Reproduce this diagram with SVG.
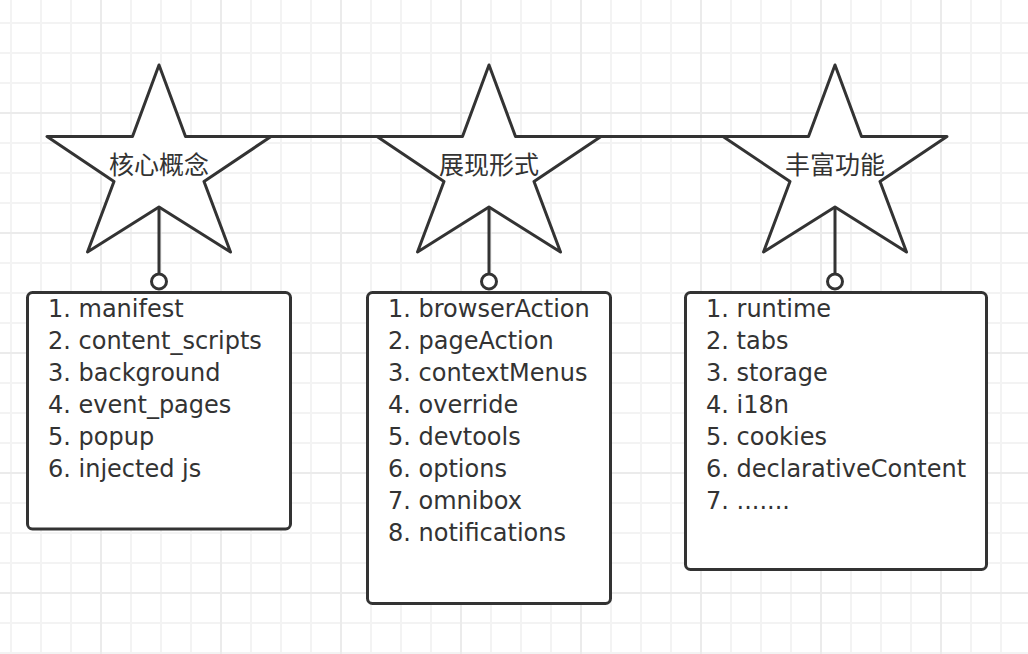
<svg xmlns="http://www.w3.org/2000/svg" width="1028" height="654" viewBox="0 0 1028 654">
  <style>
    .star { fill: #ffffff; stroke: #333333; stroke-width: 3; stroke-linejoin: round; }
    .box { fill: #ffffff; stroke: #333333; stroke-width: 3; }
    .title { font-family: "Noto Sans CJK SC", "DejaVu Sans", sans-serif; font-size: 25px; fill: #333333; text-anchor: middle; }
    .item { font-family: "DejaVu Sans", "Noto Sans", sans-serif; font-size: 24px; fill: #333333; }
    .edge { fill: none; stroke: #333333; stroke-width: 3; }
    .minor { stroke: #f3f3f3; stroke-width: 2; }
    .major { stroke: #ebebeb; stroke-width: 2; }
  </style>
  <defs>
    <pattern id="gridPattern" patternUnits="userSpaceOnUse" x="-34" y="-22" width="120" height="120">
      <line class="minor" x1="45" y1="0" x2="45" y2="120"/>
      <line class="minor" x1="75" y1="0" x2="75" y2="120"/>
      <line class="minor" x1="105" y1="0" x2="105" y2="120"/>
      <line class="minor" x1="0" y1="45" x2="120" y2="45"/>
      <line class="minor" x1="0" y1="75" x2="120" y2="75"/>
      <line class="minor" x1="0" y1="105" x2="120" y2="105"/>
      <line class="major" x1="15" y1="0" x2="15" y2="120"/>
      <line class="major" x1="0" y1="15" x2="120" y2="15"/>
    </pattern>
    <marker id="oval" markerUnits="userSpaceOnUse" viewBox="0 0 20 20" refX="2.5" refY="10" markerWidth="20" markerHeight="20" orient="auto">
      <circle cx="10" cy="10" r="7.5" fill="#ffffff" stroke="#333333" stroke-width="3"/>
    </marker>
  </defs>

  <rect id="background" x="0" y="0" width="1028" height="654" fill="#ffffff"/>
  <rect id="grid" x="0" y="0" width="1028" height="654" fill="url(#gridPattern)"/>

  <g id="node-core">
    <polygon class="star" points="159,65 185.5,136.5 271,136.5 204,181.5 230.5,252 159,207 87.5,252 114,181.5 47,136.5 132.5,136.5"/>
    <text class="title" x="159" y="174">核心概念</text>
  </g>
  <g id="node-display">
    <polygon class="star" points="489,65 515.5,136.5 601,136.5 534,181.5 560.5,252 489,207 417.5,252 444,181.5 377,136.5 462.5,136.5"/>
    <text class="title" x="489" y="174">展现形式</text>
  </g>
  <g id="node-features">
    <polygon class="star" points="835,65 861.5,136.5 947,136.5 880,181.5 906.5,252 835,207 763.5,252 790,181.5 723,136.5 808.5,136.5"/>
    <text class="title" x="835" y="174">丰富功能</text>
  </g>

  <g id="node-core-list">
    <rect class="box" x="27.5" y="292.5" width="263" height="236.5" rx="5" ry="5"/>
    <text class="item" x="48" y="317">1. manifest</text>
    <text class="item" x="48" y="349">2. content_scripts</text>
    <text class="item" x="48" y="381">3. background</text>
    <text class="item" x="48" y="413">4. event_pages</text>
    <text class="item" x="48" y="445">5. popup</text>
    <text class="item" x="48" y="477">6. injected js</text>
  </g>
  <g id="node-display-list">
    <rect class="box" x="367.5" y="292.5" width="243" height="311" rx="5" ry="5"/>
    <text class="item" x="388" y="317">1. browserAction</text>
    <text class="item" x="388" y="349">2. pageAction</text>
    <text class="item" x="388" y="381">3. contextMenus</text>
    <text class="item" x="388" y="413">4. override</text>
    <text class="item" x="388" y="445">5. devtools</text>
    <text class="item" x="388" y="477">6. options</text>
    <text class="item" x="388" y="509">7. omnibox</text>
    <text class="item" x="388" y="541">8. notifications</text>
  </g>
  <g id="node-features-list">
    <rect class="box" x="685.5" y="292.5" width="301" height="277" rx="5" ry="5"/>
    <text class="item" x="706" y="317">1. runtime</text>
    <text class="item" x="706" y="349">2. tabs</text>
    <text class="item" x="706" y="381">3. storage</text>
    <text class="item" x="706" y="413">4. i18n</text>
    <text class="item" x="706" y="445">5. cookies</text>
    <text class="item" x="706" y="477">6. declarativeContent</text>
    <text class="item" x="706" y="509">7. .......</text>
  </g>

  <g id="connectors">
    <path class="edge" d="M271,136.5 H377"/>
    <path class="edge" d="M601,136.5 H723"/>
    <path class="edge" d="M159,207 V274" marker-end="url(#oval)"/>
    <path class="edge" d="M489,207 V274" marker-end="url(#oval)"/>
    <path class="edge" d="M835,207 V274" marker-end="url(#oval)"/>
  </g>
</svg>
